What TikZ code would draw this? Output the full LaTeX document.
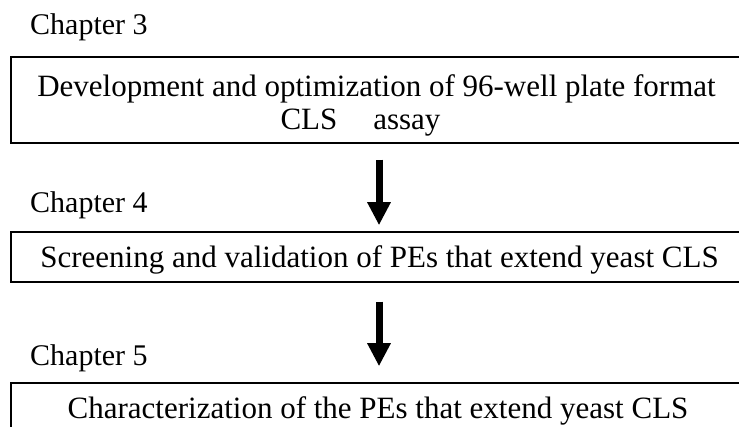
\documentclass[tikz,border=0pt]{standalone}
\usepackage{fontspec}
\setmainfont{Liberation Serif}
\usetikzlibrary{arrows.meta}

\tikzset{
  stagebox/.style={draw=black, line width=1.5pt, minimum width=749pt, inner sep=0pt},
  chaptext/.style={anchor=base west, inner sep=0pt, font=\fontsize{30}{33}\selectfont},
  boxtext/.style={anchor=base, inner sep=0pt, align=center, font=\fontsize{31}{33}\selectfont},
  flowarrow/.style={line width=7pt, -{Triangle[width=22pt,length=23pt]}}
}

\begin{document}
\begin{tikzpicture}[x=1pt, y=-1pt]
  \path[use as bounding box, clip] (0,0) rectangle (739,427);

  % chapter headings
  \node[chaptext] (c3) at (30,35) {Chapter 3};
  \node[chaptext] (c4) at (30,213) {Chapter 4};
  \node[chaptext] (c5) at (30,366) {Chapter 5};

  % stage boxes (right side runs past the page edge)
  \node[stagebox, minimum height=86pt] (b1) at (385.5,100) {};
  \node[stagebox, minimum height=50pt] (b2) at (385.5,257) {};
  \node[stagebox, minimum height=80pt] (b3) at (385.5,423) {};

  % box texts (a multi-line node sits on its last baseline)
  \node[boxtext] (t1) at (376.5,130) {Development and optimization of 96-well plate format\\CLS\hspace{36pt}assay\hspace*{32pt}};
  \node[boxtext] (t2) at (379.5,268) {Screening and validation of PEs that extend yeast CLS};
  \node[boxtext] (t3) at (378,419) {Characterization of the PEs that extend yeast CLS};

  % arrows between stages
  \coordinate (ax) at (379,0);
  \draw[flowarrow, shorten <=16pt, shorten >=6pt] (b1.south -| ax) -- (b2.north -| ax);
  \draw[flowarrow, shorten <=19pt, shorten >=16pt] (b2.south -| ax) -- (b3.north -| ax);
\end{tikzpicture}
\end{document}
